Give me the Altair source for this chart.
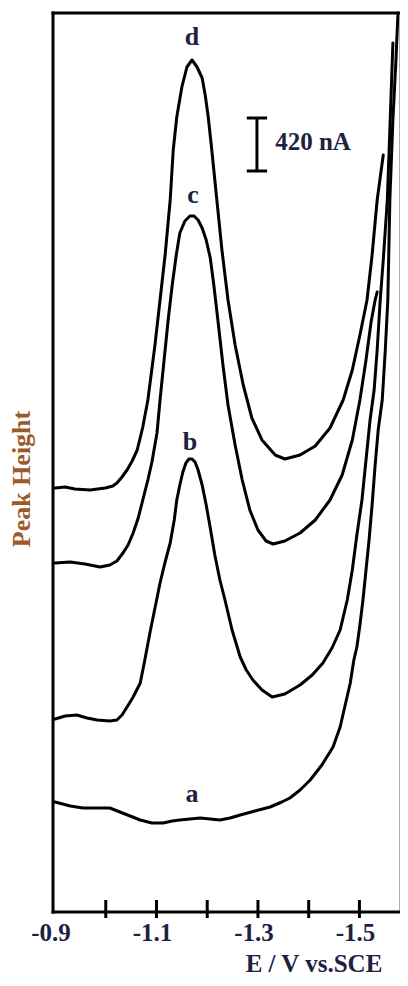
import altair as alt
import pandas as pd

# ---- data (E in V vs. SCE, peak height in arbitrary units) ----
E_a = [-0.900, -0.930, -0.955, -0.989, -1.008, -1.038, -1.068, -1.091, -1.113, -1.131,
       -1.146, -1.166, -1.186, -1.206, -1.225, -1.245, -1.265, -1.294, -1.324, -1.347,
       -1.363, -1.383, -1.403, -1.426, -1.448, -1.462, -1.472, -1.482, -1.489, -1.495,
       -1.501, -1.507, -1.513, -1.519, -1.525, -1.531, -1.537, -1.545, -1.551, -1.556,
       -1.558, -1.560, -1.566, -1.572, -1.576]
H_a = [110, 106, 104, 104, 104, 98, 92, 89, 89, 91,
       92, 93, 94, 93, 92, 94, 97, 101, 105, 110,
       114, 122, 132, 147, 165, 185, 207, 229, 252, 265,
       287, 312, 342, 372, 407, 447, 482, 512, 562, 612,
       662, 712, 792, 852, 899]

E_b = [-0.900, -0.920, -0.943, -0.963, -0.983, -1.008, -1.022, -1.032, -1.042, -1.054,
       -1.068, -1.077, -1.087, -1.097, -1.107, -1.117, -1.127, -1.135, -1.140, -1.146,
       -1.152, -1.158, -1.164, -1.170, -1.176, -1.182, -1.190, -1.198, -1.206, -1.215,
       -1.225, -1.235, -1.249, -1.265, -1.277, -1.290, -1.308, -1.328, -1.353, -1.383,
       -1.407, -1.428, -1.446, -1.462, -1.476, -1.486, -1.495, -1.505, -1.513, -1.521,
       -1.529, -1.535, -1.541, -1.547, -1.555, -1.560, -1.566]
H_b = [193, 196, 197, 194, 192, 191, 192, 197, 205, 215,
       229, 252, 279, 304, 329, 350, 369, 392, 412, 427,
       440, 449, 453, 453, 450, 442, 427, 407, 384, 357,
       332, 312, 282, 255, 242, 232, 222, 215, 218, 227,
       237, 249, 264, 282, 312, 342, 377, 412, 452, 492,
       522, 562, 612, 652, 712, 782, 869]

E_c = [-0.900, -0.930, -0.959, -0.989, -1.008, -1.022, -1.034, -1.044, -1.054, -1.064,
       -1.073, -1.083, -1.091, -1.101, -1.107, -1.115, -1.123, -1.131, -1.139, -1.146,
       -1.156, -1.166, -1.174, -1.182, -1.190, -1.198, -1.206, -1.213, -1.221, -1.231,
       -1.241, -1.255, -1.269, -1.284, -1.300, -1.316, -1.330, -1.353, -1.383, -1.413,
       -1.442, -1.466, -1.486, -1.501, -1.513, -1.523, -1.531, -1.535]
H_c = [349, 350, 348, 345, 347, 351, 359, 367, 379, 394,
       412, 432, 450, 479, 512, 552, 592, 627, 657, 679,
       691, 696, 696, 692, 684, 672, 654, 627, 592, 547,
       507, 467, 432, 402, 382, 371, 368, 371, 379, 392,
       412, 437, 472, 512, 552, 590, 612, 620]

E_d = [-0.900, -0.920, -0.939, -0.969, -0.999, -1.014, -1.022, -1.032, -1.042, -1.052,
       -1.062, -1.073, -1.083, -1.097, -1.107, -1.117, -1.127, -1.133, -1.140, -1.150,
       -1.160, -1.170, -1.180, -1.190, -1.196, -1.202, -1.209, -1.219, -1.229, -1.241,
       -1.255, -1.271, -1.288, -1.308, -1.334, -1.353, -1.383, -1.413, -1.442, -1.468,
       -1.486, -1.501, -1.515, -1.525, -1.535, -1.547]
H_d = [424, 425, 423, 422, 424, 426, 429, 435, 442, 451,
       462, 485, 512, 567, 612, 657, 712, 762, 795, 825,
       845, 852, 845, 834, 817, 795, 762, 712, 662, 612,
       567, 527, 494, 472, 457, 453, 457, 466, 484, 512,
       542, 577, 612, 657, 712, 757]

curve_labels = ["a", "b", "c", "d"]
label_E = [-1.170, -1.166, -1.172, -1.170]
label_H = [110, 462, 709, 867]

tick_values = [-1.0, -1.1, -1.2, -1.3, -1.4, -1.5]
tick_label_values = [-0.9, -1.1, -1.3, -1.5]
tick_label_text = ["-0.9", "-1.1", "-1.3", "-1.5"]
x_title = ["E / V vs.SCE"]
y_title = ["Peak Height"]

bar_E = [-1.298]
bar_lo = [741]
bar_hi = [794]
cap_E1 = [-1.278, -1.278]
cap_E2 = [-1.318, -1.318]
cap_H = [741, 794]
bar_text = ["420 nA"]
bar_text_E = [-1.334]
bar_text_H = [762]

x_domain = [-1.580, -0.896]
y_domain = [0, 899]

# frame: left, bottom, top (black) and right (grey), along the domain edges
frame_E1 = [x_domain[1], x_domain[1], x_domain[1]]
frame_E2 = [x_domain[1], x_domain[0], x_domain[0]]
frame_H1 = [y_domain[0], y_domain[0], y_domain[1]]
frame_H2 = [y_domain[1], y_domain[0], y_domain[1]]

# ---- tables ----
rows = []
for name, E, H in [("a", E_a, H_a), ("b", E_b, H_b), ("c", E_c, H_c), ("d", E_d, H_d)]:
    for i, (e, h) in enumerate(zip(E, H)):
        rows.append({"series": name, "E": e, "H": h, "i": i})
df = pd.DataFrame(rows)
lab_df = pd.DataFrame({"label": curve_labels, "E": label_E, "H": label_H})
bar_df = pd.DataFrame({"E": bar_E, "lo": bar_lo, "hi": bar_hi})
cap_df = pd.DataFrame({"E1": cap_E1, "E2": cap_E2, "H": cap_H})
txt_df = pd.DataFrame({"t": bar_text, "E": bar_text_E, "H": bar_text_H})
tick_df = pd.DataFrame({"E": tick_values})
ticklab_df = pd.DataFrame({"E": tick_label_values, "t": tick_label_text})
frame_df = pd.DataFrame({"FE1": frame_E1, "FE2": frame_E2, "FH1": frame_H1, "FH2": frame_H2})
right_df = pd.DataFrame({"RE": [x_domain[0]], "RH1": [y_domain[0]], "RH2": [y_domain[1]]})
xt_df = pd.DataFrame({"t": x_title})
yt_df = pd.DataFrame({"t": y_title})

FONT = "Liberation Serif"
TXT = "#1e2144"

xs = alt.Scale(domain=x_domain, reverse=True, nice=False, zero=False)
ys = alt.Scale(domain=y_domain, nice=False, zero=False)


def X(field):
    return alt.X(field, type="quantitative", scale=xs, axis=None)


def Y(field):
    return alt.Y(field, type="quantitative", scale=ys, axis=None)


lines = alt.Chart(df).mark_line(strokeWidth=3, color="black",
                                strokeJoin="round", strokeCap="round").encode(
    x=X("E"), y=Y("H"), detail="series:N", order="i:Q",
)

frame = alt.Chart(frame_df).mark_rule(strokeWidth=3, color="black", strokeCap="square").encode(
    x=X("FE1"), x2="FE2", y=Y("FH1"), y2="FH2",
)

right_frame = alt.Chart(right_df).mark_rule(strokeWidth=1.2, color="#7a7a7a").encode(
    x=X("RE"), y=Y("RH1"), y2="RH2",
)

# x-axis ticks crossing the bottom frame line (about 12 px inside, 6 px outside)
ticks = alt.Chart(tick_df).mark_rule(strokeWidth=3, color="black").encode(
    x=X("E"), y=alt.value(887), y2=alt.value(905),
)

tick_labels = alt.Chart(ticklab_df).mark_text(
    font=FONT, fontSize=25, fontWeight="bold", color=TXT,
    align="center", baseline="alphabetic", dx=-4,
).encode(x=X("E"), y=alt.value(928), text="t:N")

x_title_mark = alt.Chart(xt_df).mark_text(
    font=FONT, fontSize=25, fontWeight="bold", color=TXT,
    align="center", baseline="alphabetic",
).encode(x=alt.value(261), y=alt.value(959), text="t:N")

y_title_mark = alt.Chart(yt_df).mark_text(
    font=FONT, fontSize=26, fontWeight="bold", color="#9c5a28",
    align="center", baseline="middle", angle=270,
).encode(x=alt.value(-31), y=alt.value(466), text="t:N")

labels = alt.Chart(lab_df).mark_text(font=FONT, fontSize=26, fontWeight="bold", color=TXT,
                                     align="center", baseline="alphabetic").encode(
    x=X("E"), y=Y("H"), text="label:N",
)

bar = alt.Chart(bar_df).mark_rule(strokeWidth=3, color="black").encode(
    x=X("E"), y=Y("lo"), y2="hi",
)

caps = alt.Chart(cap_df).mark_rule(strokeWidth=3, color="black").encode(
    x=X("E1"), x2="E2", y=Y("H"),
)

bar_label = alt.Chart(txt_df).mark_text(font=FONT, fontSize=25, fontWeight="bold", color=TXT,
                                        align="left", baseline="alphabetic").encode(
    x=X("E"), y=Y("H"), text="t:N",
)

chart = alt.layer(lines, right_frame, frame, ticks, tick_labels, x_title_mark, y_title_mark,
                  labels, bar, caps, bar_label).properties(
    width=347, height=899,
    padding={"left": 45, "top": 5, "right": 0, "bottom": 66},
    autosize=alt.AutoSizeParams(type="none"),
    background="white",
).configure_view(strokeWidth=0)

chart.save("out.html", embed_options={"renderer": "svg", "actions": False})
